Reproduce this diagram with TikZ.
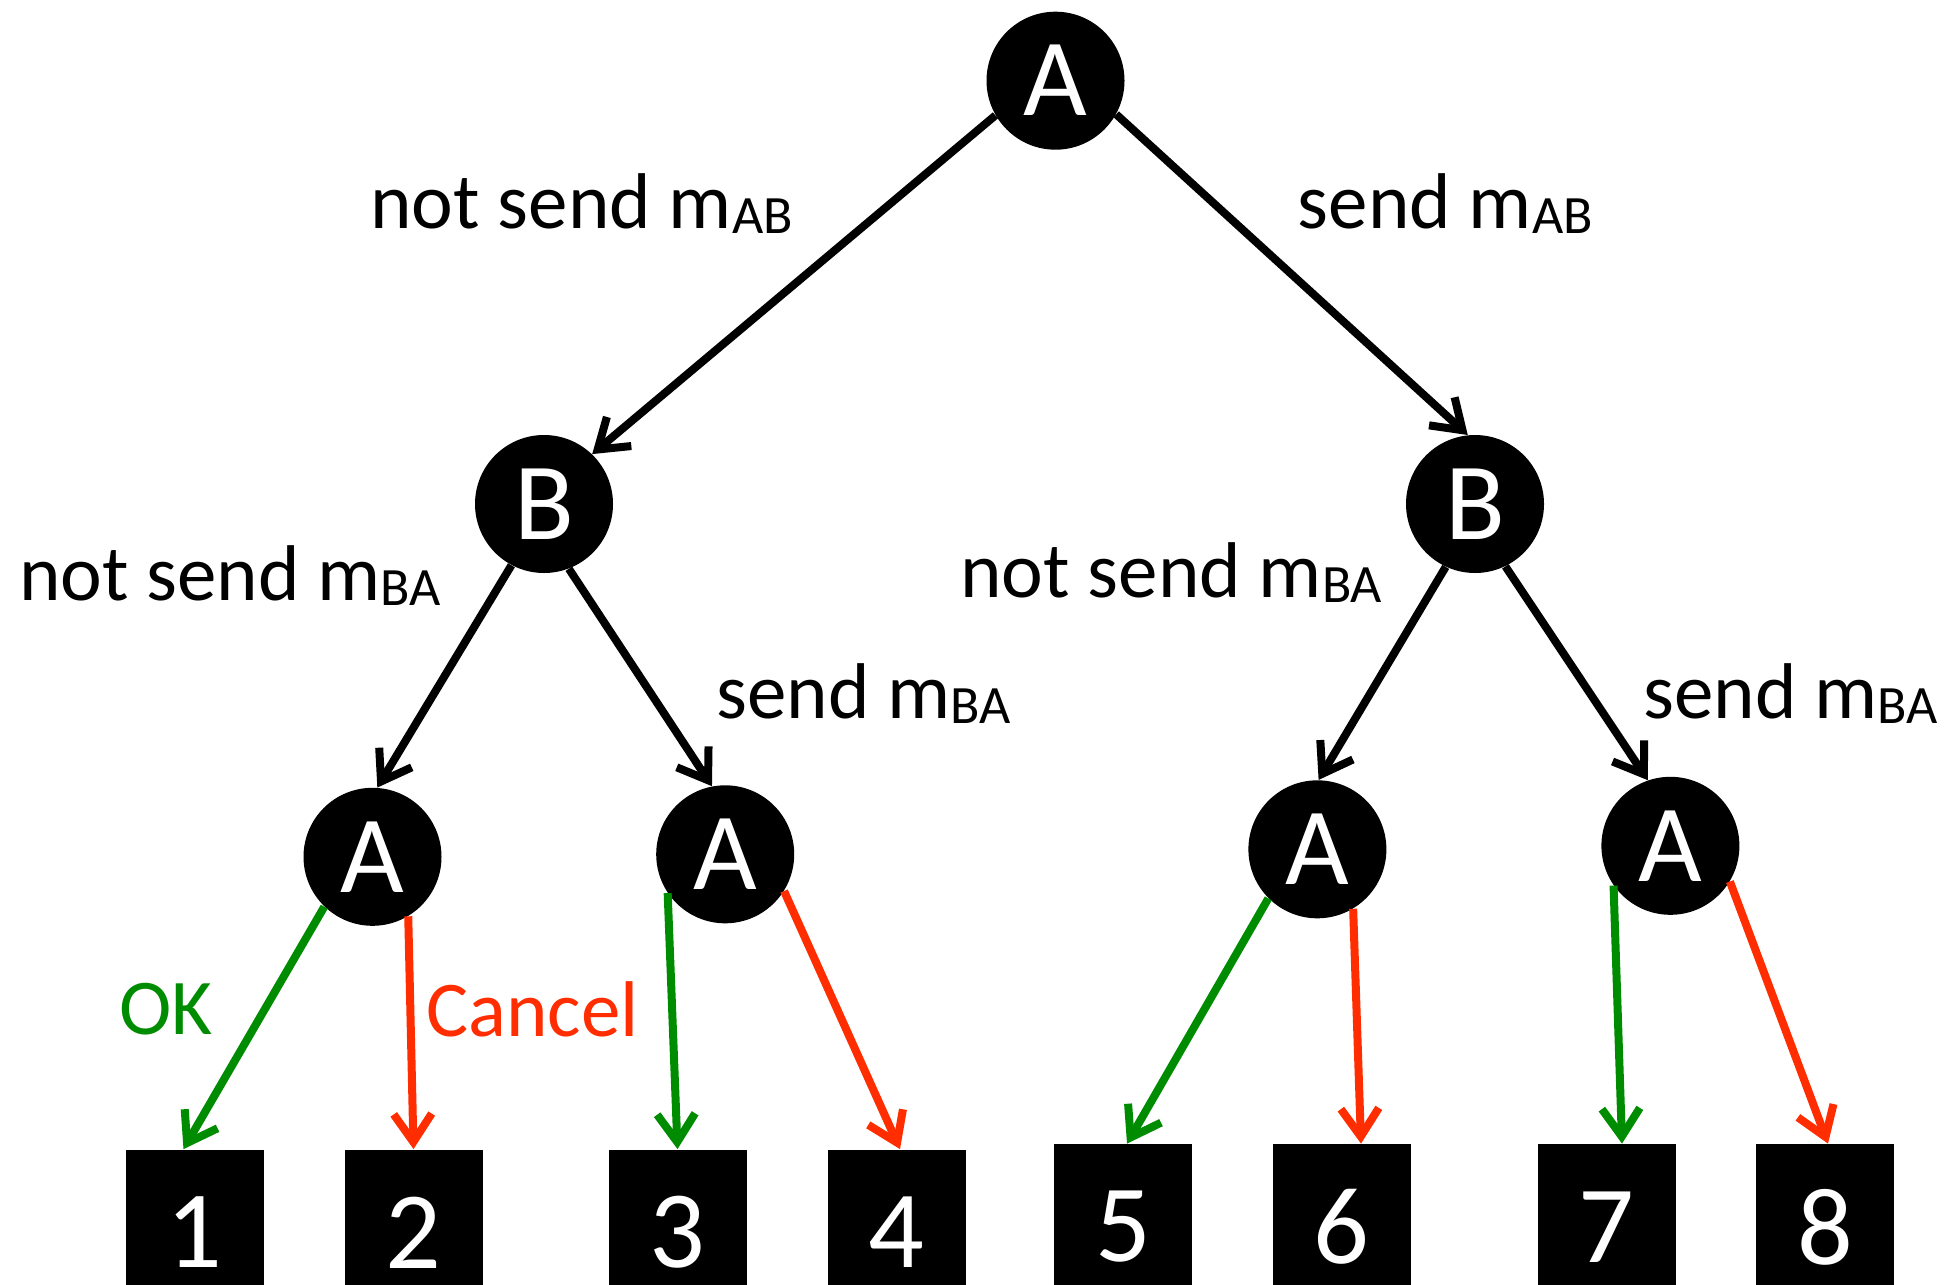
\documentclass[tikz,border=0pt]{standalone}
\usepackage{fontspec}
\setmainfont{Carlito}
\usetikzlibrary{arrows.meta}
\definecolor{okgreen}{RGB}{0,140,0}
\definecolor{cancelred}{RGB}{255,45,0}
% message name with lowered index
\newcommand{\msg}[2]{#1 m\raisebox{-2.5pt}{\fontsize{27}{27}\selectfont #2}}

\begin{document}
\begin{tikzpicture}[x=0.5pt,y=-0.5pt,
    player/.style={circle,fill=black,text=white,minimum size=69pt,inner sep=0pt,
                   font=\fontsize{55}{55}\selectfont},
    leaf/.style={rectangle,fill=black,text=white,minimum width=69pt,minimum height=83pt,
                 inner sep=0pt,font=\fontsize{55}{55}\selectfont},
    move/.style={line width=4pt,
                 -{Straight Barb[length=14pt,width=19pt,line cap=butt,line join=miter]}},
    lbl/.style={anchor=base west,inner sep=0pt,font=\fontsize{39.5}{39.5}\selectfont}]
    \useasboundingbox (0,0) rectangle (1947,1284);
    \clip (0,0) rectangle (1947,1284);

    % Draw nodes
    \node[player] (A0) at (1055.5,80.7) {A};
    \node[player] (B1) at (544,504) {B};
    \node[player] (B2) at (1475,504) {B};
    \node[player] (A1) at (372.5,856.8) {A};
    \node[player] (A2) at (725.2,854.3) {A};
    \node[player] (A3) at (1317.4,849.3) {A};
    \node[player] (A4) at (1670.4,845.8) {A};
    \foreach \i/\x in {1/194.5,2/413.5,3/677.5,4/896.5} \node[leaf] (L\i) at (\x,1232.5) {\i};
    \foreach \i/\x in {5/1123,6/1341.5,7/1606.5,8/1825} \node[leaf] (L\i) at (\x,1227) {\i};

    % Draw edges
    \draw[move] (A0.210) -- (B1.46);
    \draw[move] (A0.331) -- (B2.96);
    \draw[move] (B1.242) -- (A1.86);
    \draw[move] (B1.291) -- (A2.101);
    \draw[move] (B2.245) -- (A3.89);
    \draw[move] (B2.296) -- (A4.109);

    \draw[move,okgreen] (A1.226) -- ([xshift=-5.5pt]L1.north);
    \draw[move,cancelred] (A1.301) -- (L2.north);
    \draw[move,okgreen] (A2.214) -- (L3.north);
    \draw[move,cancelred] (A2.328) -- ([xshift=1.75pt]L4.north);
    \draw[move,okgreen] (A3.225) -- ([xshift=2pt]L5.north);
    \draw[move,cancelred] (A3.301) -- ([xshift=9.75pt]L6.north);
    \draw[move,okgreen] (A4.215) -- ([xshift=7.75pt]L7.north);
    \draw[move,cancelred] (A4.329) -- ([xshift=1.5pt]L8.north);

    % Labels
    \node[lbl] (nsAB) at (370,228) {\msg{not send}{AB}};
    \node[lbl] (sAB) at (1297.5,228) {\msg{send}{AB}};
    \node[lbl] (nsBA1) at (18.6,600) {\msg{not send}{BA}};
    \node[lbl] (sBA1) at (716,718) {\msg{send}{BA}};
    \node[lbl] (nsBA2) at (960,597) {\msg{not send}{BA}};
    \node[lbl] (sBA2) at (1643,718) {\msg{send}{BA}};
    \node[lbl,okgreen] (ok) at (119,1034) {OK};
    \node[lbl,cancelred] (cancel) at (426,1036) {Cancel};
\end{tikzpicture}
\end{document}
